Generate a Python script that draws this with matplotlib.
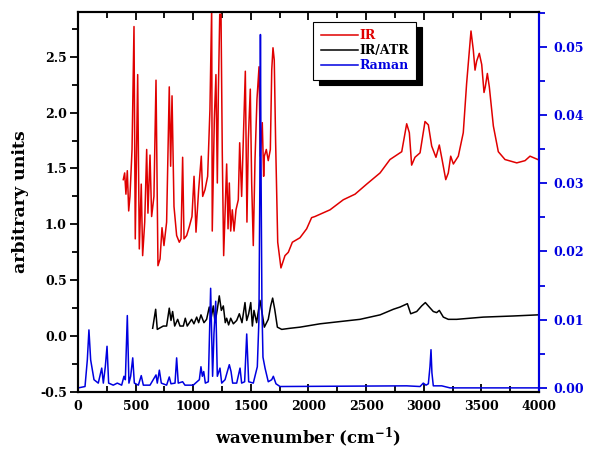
import matplotlib
matplotlib.use('Agg')
import matplotlib.pyplot as plt
from matplotlib.ticker import MultipleLocator, FormatStrFormatter

# IR spectrum (left axis)
ir_wn = [393, 405, 416, 428, 440, 451, 469, 486, 497, 518, 532, 549, 561, 579, 596, 607, 625, 639,
         659, 677, 694, 712, 729, 746, 769, 792, 804, 816, 833, 856, 879, 894, 908, 920, 943, 966,
         989, 1007, 1024, 1047, 1070, 1082, 1102, 1125, 1145, 1160, 1165, 1183, 1197, 1209, 1218,
         1230, 1241, 1252, 1264, 1281, 1290, 1302, 1313, 1325, 1339, 1354, 1371, 1391, 1403, 1420,
         1438, 1452, 1466, 1478, 1495, 1507, 1521, 1536, 1553, 1571, 1582, 1599, 1611, 1617, 1634,
         1651, 1669, 1681, 1692, 1703, 1715, 1733, 1761, 1796, 1825, 1860, 1926, 1984, 2027, 2056,
         2187, 2302, 2404, 2505, 2621, 2707, 2765, 2809, 2852, 2875, 2895, 2924, 2968, 3011, 3040,
         3069, 3106, 3135, 3159, 3191, 3213, 3234, 3257, 3300, 3343, 3372, 3410, 3430, 3445, 3459,
         3482, 3503, 3523, 3534, 3552, 3569, 3604, 3647, 3705, 3807, 3879, 3922, 3990]
ir_val = [1.40, 1.46, 1.27, 1.48, 1.12, 1.25, 1.67, 2.77, 0.87, 2.34, 0.78, 1.36, 0.72, 1.02, 1.67, 1.10, 1.62, 1.07,
          1.25, 2.29, 0.63, 0.69, 0.97, 0.81, 1.02, 2.23, 1.52, 2.15, 1.16, 0.90, 0.84, 0.87, 1.60, 0.87, 0.90, 0.98,
          1.07, 1.43, 0.93, 1.31, 1.61, 1.25, 1.31, 1.43, 2.03, 2.95, 0.94, 1.94, 2.34, 1.37, 2.18,
          2.88, 2.88, 1.64, 0.72, 1.25, 1.54, 0.96, 1.37, 0.94, 1.13, 0.94, 1.13, 1.22, 1.73, 1.25,
          1.88, 2.37, 1.02, 1.76, 2.21, 1.37, 0.81, 1.58, 2.12, 2.41, 1.61, 1.91, 1.43, 1.61, 1.67,
          1.57, 1.67, 2.38, 2.58, 2.47, 1.73, 0.84, 0.61, 0.72, 0.75, 0.84, 0.88, 0.96, 1.06, 1.07,
          1.13, 1.22, 1.27, 1.36, 1.46, 1.58, 1.62, 1.65, 1.90, 1.82, 1.53, 1.60, 1.64, 1.92, 1.89,
          1.70, 1.60, 1.71, 1.58, 1.40, 1.46, 1.61, 1.54, 1.61, 1.82, 2.26, 2.73, 2.56, 2.38, 2.46,
          2.53, 2.43, 2.18, 2.23, 2.35, 2.23, 1.88, 1.65, 1.58, 1.55, 1.57, 1.61, 1.58]

# IR/ATR spectrum (left axis)
atr_wn = [648, 674, 688, 740, 769, 792, 807, 821, 839, 865, 885, 914, 931, 948, 986, 1006, 1030, 1047,
          1067, 1093, 1116, 1139, 1157, 1174, 1189, 1209, 1226, 1244, 1261, 1278, 1290, 1307, 1325,
          1348, 1377, 1400, 1423, 1449, 1464, 1481, 1499, 1513, 1527, 1550, 1579, 1597, 1617, 1651,
          1672, 1689, 1707, 1730, 1768, 1840, 1926, 2100, 2273, 2447, 2621, 2736, 2794, 2858, 2887,
          2939, 2982, 3014, 3048, 3083, 3112, 3135, 3170, 3213, 3286, 3517, 3777, 3990]
atr_val = [0.07, 0.24, 0.06, 0.09, 0.09, 0.25, 0.14, 0.22, 0.09, 0.15, 0.09, 0.09, 0.16, 0.09, 0.15, 0.11, 0.17, 0.12,
           0.19, 0.12, 0.15, 0.26, 0.17, 0.27, 0.12, 0.24, 0.36, 0.23, 0.27, 0.12, 0.16, 0.10, 0.16,
           0.11, 0.14, 0.20, 0.12, 0.30, 0.14, 0.20, 0.30, 0.09, 0.23, 0.12, 0.32, 0.21, 0.08, 0.15,
           0.27, 0.34, 0.24, 0.08, 0.06, 0.07, 0.08, 0.11, 0.13, 0.15, 0.19, 0.24, 0.26, 0.29, 0.20,
           0.22, 0.27, 0.30, 0.26, 0.22, 0.21, 0.23, 0.17, 0.15, 0.15, 0.17, 0.18, 0.19]

# Raman spectrum (right axis)
raman_wn = [3, 61, 81, 95, 110, 139, 176, 206, 220, 237, 252, 266, 306, 341, 379, 399, 411, 428, 442,
            457, 475, 489, 524, 549, 567, 625, 677, 688, 706, 723, 769, 792, 807, 842, 856, 870, 908,
            928, 1000, 1053, 1067, 1079, 1091, 1105, 1131, 1151, 1168, 1180, 1195, 1209, 1232, 1247,
            1276, 1296, 1313, 1328, 1342, 1377, 1406, 1420, 1446, 1464, 1481, 1521, 1556, 1570, 1578,
            1583, 1589, 1596, 1605, 1623, 1651, 1681, 1695, 1718, 1753, 2852, 2968, 2996, 3020, 3040,
            3054, 3063, 3071, 3083, 3156, 3228, 3990]
raman_val = [0.0, 0.0002, 0.0041, 0.0085, 0.0041, 0.0012, 0.0007, 0.0029, 0.0007, 0.0031, 0.0061, 0.0007,
             0.0004, 0.0007, 0.0004, 0.0017, 0.0012, 0.0106, 0.0007, 0.0017, 0.0044, 0.0007, 0.0004,
             0.0018, 0.0004, 0.0004, 0.0019, 0.0007, 0.0026, 0.0007, 0.0004, 0.0016, 0.0006, 0.0007,
             0.0044, 0.0007, 0.0009, 0.0004, 0.0004, 0.0012, 0.0031, 0.0017, 0.0024, 0.0007, 0.0009,
             0.0146, 0.0017, 0.0080, 0.0127, 0.0017, 0.0029, 0.0007, 0.0012, 0.0024, 0.0034, 0.0024,
             0.0007, 0.0007, 0.0029, 0.0007, 0.0009, 0.0079, 0.0009, 0.0007, 0.0031, 0.0100, 0.0300,
             0.0518, 0.0300, 0.0120, 0.0045, 0.0029, 0.0009, 0.0012, 0.0017, 0.0006, 0.0002, 0.0003,
             0.0002, 0.0007, 0.0004, 0.0006, 0.0031, 0.0056, 0.0022, 0.0003, 0.0003, 0.0, 0.0]

plt.rcParams['font.family'] = ['DejaVu Serif']
plt.rcParams['font.weight'] = 'bold'
plt.rcParams['mathtext.fontset'] = 'dejavuserif'

fig = plt.figure(figsize=(5.89, 4.53), dpi=100)
ax1 = fig.add_axes([0.1324, 0.1347, 0.7827, 0.8388])
line_width = 1.1
tick_size = 9

l1, = ax1.plot(ir_wn, ir_val, color='#e00000', linewidth=line_width, label='IR')
l2, = ax1.plot(atr_wn, atr_val, color='black', linewidth=line_width, label='IR/ATR')
ax1.set_xlim(0, 4000)
ax1.set_ylim(-0.5, 2.9)
ax1.xaxis.set_major_locator(MultipleLocator(500))
ax1.xaxis.set_minor_locator(MultipleLocator(250))
ax1.yaxis.set_major_locator(MultipleLocator(0.5))
ax1.yaxis.set_minor_locator(MultipleLocator(0.25))
ax1.yaxis.set_major_formatter(FormatStrFormatter('%.1f'))
ax1.tick_params(axis='x', which='both', direction='in', top=True, labelsize=tick_size, width=1.3, pad=6)
ax1.tick_params(axis='x', which='major', length=6)
ax1.tick_params(axis='x', which='minor', length=4)
ax1.tick_params(axis='y', which='both', direction='out', labelsize=tick_size, width=1.3, pad=2)
ax1.tick_params(axis='y', which='major', length=6)
ax1.tick_params(axis='y', which='minor', length=4)
ax1.set_xlabel('wavenumber (cm$^{\\mathbf{-1}}$)', fontsize=12, fontweight='bold', labelpad=9)
ax1.set_ylabel('arbitrary units', fontsize=12.5, fontweight='bold', labelpad=8)

# Right axis for Raman
ax2 = ax1.twinx()
l3, = ax2.plot(raman_wn, raman_val, color='#0000e0', linewidth=line_width, label='Raman')
ax2.set_ylim(-0.0006, 0.0551)
ax2.yaxis.set_major_locator(MultipleLocator(0.01))
ax2.yaxis.set_minor_locator(MultipleLocator(0.005))
ax2.yaxis.set_major_formatter(FormatStrFormatter('%.2f'))
ax2.tick_params(axis='y', which='both', direction='out', colors='#0000e0', labelsize=tick_size, width=1.3, pad=4)
ax2.tick_params(axis='y', which='major', length=6)
ax2.tick_params(axis='y', which='minor', length=4)
ax2.spines['right'].set_color('#0000e0')

for ax in (ax1, ax2):
    for s in ax.spines.values():
        s.set_linewidth(1.5)

leg = ax2.legend(handles=[l1, l2, l3], loc='upper left', bbox_to_anchor=(0.51, 0.974),
                 borderaxespad=0, fancybox=False, fontsize=9, handlelength=3.0,
                 handletextpad=0.1, borderpad=0.6, labelspacing=0.15, edgecolor='black',
                 framealpha=1, shadow={'ox': 4, 'oy': -4, 'facecolor': 'black',
                                       'edgecolor': 'black', 'alpha': 1})
leg.get_frame().set_linewidth(0.8)
for txt, c in zip(leg.get_texts(), ['#e00000', 'black', '#0000e0']):
    txt.set_color(c)
    txt.set_fontweight('bold')

fig.savefig('out.png', dpi=100)
